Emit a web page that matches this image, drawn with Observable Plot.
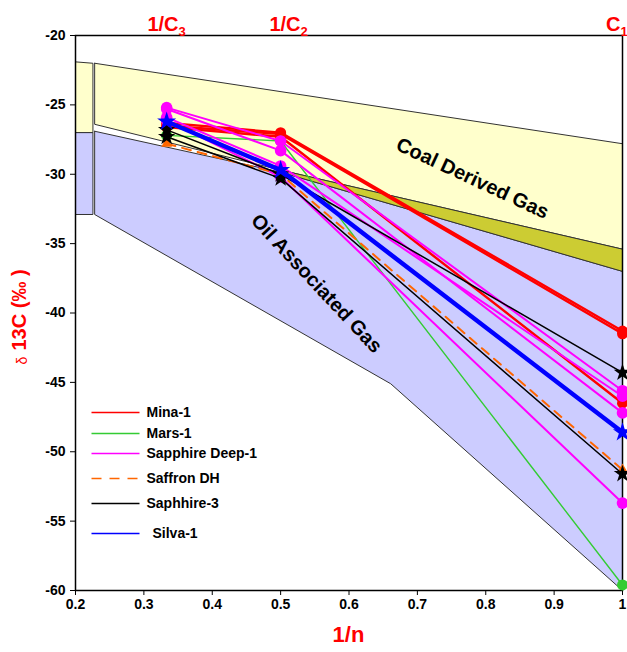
<!DOCTYPE html>
<html>
<head>
<meta charset="utf-8">
<script src="https://cdn.jsdelivr.net/npm/d3@7"></script>
<script src="https://cdn.jsdelivr.net/npm/@observablehq/plot@0.6"></script>
<style>
  html, body { margin: 0; padding: 0; background: #fff; }
  #chart svg { display: block; }
</style>
</head>
<body>
<div id="chart"></div>
<script>
// ---- positions on the 1/n axis for C3, C2, C1
const cX = [1 / 3, 0.5, 1];

// ---- δ13C samples per well: [C3, C2, C1]
const mina1 = [[-26.3, -27.0, -41.3], [-26.5, -27.1, -41.5], [-26.6, -27.3, -46.5]];
const mars1 = [[-27.2, -27.6, -59.6]];
const sapphireDeep1 = [[-25.2, -27.6, -45.6], [-25.3, -28.3, -47.2], [-25.9, -29.4, -46.0], [-26.1, -30.2, -53.7]];
const saffronDH = [[-27.8, -30.0, -51.3]];
const saphhire3 = [[-26.8, -30.0, -44.3], [-27.3, -30.3, -51.6]];
const silva1 = [[-26.2, -29.7, -48.6]];

// ---- genetic fields (polygon vertices, 1/n and δ13C)
const coalLeftX = [0.2, 0.2255, 0.2255, 0.2];
const coalLeftY = [-21.9, -22.0, -27.0, -27.0];
const oilLeftX = [0.2, 0.2255, 0.2255, 0.2];
const oilLeftY = [-27.0, -27.0, -32.9, -32.9];
const coalX = [0.228, 1, 1, 0.5, 0.228];
const coalY = [-22.0, -27.8, -35.4, -29.7, -26.4];
const mixX = [0.5, 1, 1, 0.5];
const mixY = [-29.7, -35.4, -37.0, -29.85];
const oilX = [0.228, 0.5, 1, 1, 0.661, 0.228];
const oilY = [-26.9, -29.85, -37.0, -60, -45.1, -32.9];

// ---- ticks
const xTicks = [0.2, 0.3, 0.4, 0.5, 0.6, 0.7, 0.8, 0.9, 1];
const yTicks = [-20, -25, -30, -35, -40, -45, -50, -55, -60];

// ---- legend
const legendNames = ["Mina-1", "Mars-1", "Sapphire Deep-1", "Saffron DH", "Saphhire-3", "Silva-1"];

// ---- layout
const W = 627, H = 652, ML = 75, MR = 5, MT = 35, MB = 62;
const X = px => 0.2 + (px - ML) / (W - ML - MR) * 0.8;
const Y = py => -20 - (py - MT) / (H - MT - MB) * 40;

const series = [
  {name: "Mina-1", data: mina1, color: "#FF0000", width: 2.4, symbol: "circle", r: 5.5},
  {name: "Mars-1", data: mars1, color: "#33CC33", width: 1.4, symbol: "circle", r: 5.5},
  {name: "Sapphire Deep-1", data: sapphireDeep1, color: "#FF00FF", width: 2, symbol: "circle", r: 5.8},
  {name: "Saffron DH", data: saffronDH, color: "#FF6600", width: 2, dash: "9,7", symbol: "triangle", r: 4},
  {name: "Saphhire-3", data: saphhire3, color: "#000000", width: 1.5, symbol: "star", r: 5.5},
  {name: "Silva-1", data: silva1, color: "#0000FF", width: 4.5, symbol: "star", r: 6}
];

const polyRows = (xs, ys) => xs.concat([xs[0]]).map((x, i) => ({x, y: ys.concat([ys[0]])[i]}));
const polyMark = (xs, ys, fill) => Plot.line(polyRows(xs, ys), {x: "x", y: "y", fill, stroke: "#333", strokeWidth: 1, curve: "linear"});

const marks = [
  polyMark(coalLeftX, coalLeftY, "#FFFFCC"),
  polyMark(oilLeftX, oilLeftY, "#CCCCFF"),
  polyMark(coalX, coalY, "#FFFFCC"),
  polyMark(oilX, oilY, "#CCCCFF"),
  polyMark(mixX, mixY, "#CCCC33"),
  Plot.frame({stroke: "#000", strokeWidth: 1.5}),
  Plot.axisX({ticks: xTicks, tickSize: 5, tickPadding: 4, tickFormat: d => String(d), fontSize: 14, fontWeight: "bold", label: null}),
  Plot.axisY({ticks: yTicks, tickSize: 5, tickPadding: 5, tickFormat: d => String(d), fontSize: 14, fontWeight: "bold", label: null}),
  Plot.text(["Coal Derived Gas"], {x: X(472), y: Y(178), rotate: 25, fontSize: 20, fontWeight: "bold", fill: "#000"}),
  Plot.text(["Oil Associated Gas"], {x: X(316), y: Y(283), rotate: 47, fontSize: 20, fontWeight: "bold", fill: "#000"})
];

for (const s of series) {
  const rows = s.data.flatMap((v, k) => v.map((d, j) => ({sample: k, x: cX[j], y: d})));
  marks.push(Plot.line(rows, {x: "x", y: "y", z: "sample", stroke: s.color, strokeWidth: s.width, strokeDasharray: s.dash}));
  marks.push(Plot.dot(rows, {x: "x", y: "y", r: s.r, symbol: s.symbol, fill: s.color, stroke: "none"}));
}

// legend
series.forEach((s, i) => {
  const py = [412, 433, 453, 478, 503, 533][i];
  marks.push(Plot.link([s.name], {x1: X(91), x2: X(139), y1: Y(py), y2: Y(py), stroke: s.color, strokeWidth: 1.6, strokeDasharray: s.dash ? "10,8" : undefined}));
  marks.push(Plot.text([legendNames[i]], {x: X(i === 5 ? 152 : 146), y: Y(py), textAnchor: "start", fontSize: 14, fontWeight: "bold", fill: "#000"}));
});

// top labels
const topLabels = [{main: "1/C", sub: "3", end: 178}, {main: "1/C", sub: "2", end: 300}, {main: "C", sub: "1", end: 620}];
for (const t of topLabels) {
  marks.push(Plot.text([t.main], {x: X(t.end), y: Y(24), textAnchor: "end", fontSize: 20, fontWeight: "bold", fill: "#FF0000"}));
  marks.push(Plot.text([t.sub], {x: X(t.end), y: Y(31), textAnchor: "start", fontSize: 13, fontWeight: "bold", fill: "#FF0000"}));
}

// axis titles
marks.push(Plot.text(["1/n"], {x: X(348), y: Y(634), fontSize: 22, fontWeight: "bold", fill: "#FF0000"}));
marks.push(Plot.text(["13C (‰ )"], {x: X(19), y: Y(350), rotate: -90, textAnchor: "start", fontSize: 20, fontWeight: "bold", fill: "#FF0000"}));
marks.push(Plot.text(["δ"], {x: X(22), y: Y(364), rotate: -90, textAnchor: "start", fontSize: 14, fill: "#FF0000"}));

const chart = Plot.plot({
  width: W, height: H,
  marginLeft: ML, marginRight: MR, marginTop: MT, marginBottom: MB,
  x: {domain: [0.2, 1]},
  y: {domain: [-60, -20]},
  style: {fontFamily: "'Liberation Sans', Arial, sans-serif", background: "#fff", overflow: "visible"},
  marks
});
document.getElementById("chart").appendChild(chart);
</script>
</body>
</html>
